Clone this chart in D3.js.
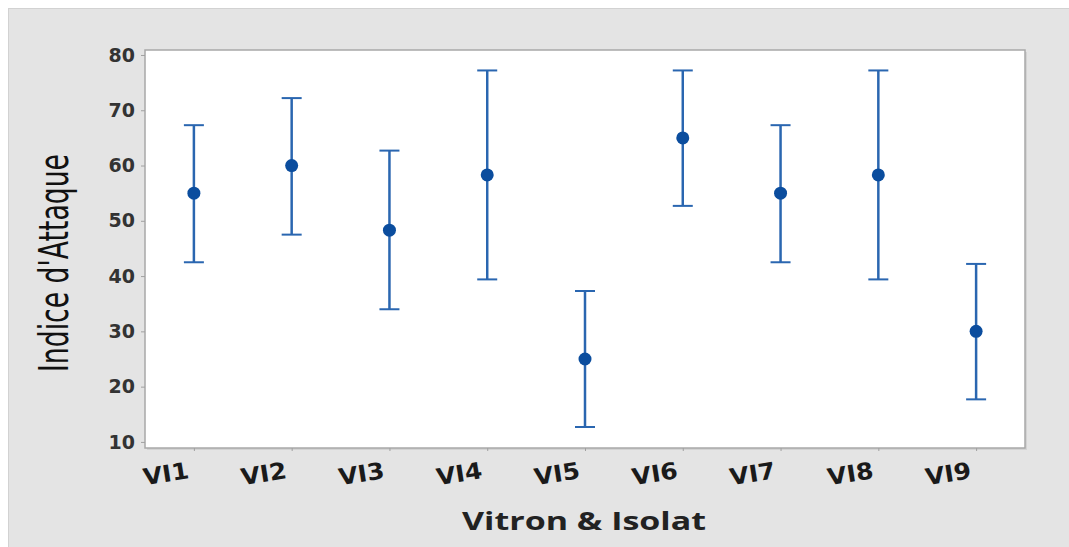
<!DOCTYPE html>
<html>
<head>
<meta charset="utf-8">
<script src="https://cdn.jsdelivr.net/npm/d3@7"></script>
<style>
  body { margin: 0; background: #ffffff; }
  svg { display: block; }
</style>
</head>
<body>
<svg id="chart" width="1069" height="547"></svg>
<script>
// data
var groups = ["VI1", "VI2", "VI3", "VI4", "VI5", "VI6", "VI7", "VI8", "VI9"]
var means  = [55, 60, 48.3, 58.3, 25, 65, 55, 58.3, 30]
var uppers = [67.3, 72.2, 62.7, 77.2, 37.3, 77.2, 67.3, 77.2, 42.2]
var lowers = [42.5, 47.5, 34, 39.4, 12.7, 52.7, 42.5, 39.4, 17.7]
var yTicks = [10, 20, 30, 40, 50, 60, 70, 80]

var dimensions = {
  width: 1069,
  height: 547,
  margin: { top: 50, bottom: 99, right: 44, left: 145 }
}
var plotW = dimensions.width - dimensions.margin.left - dimensions.margin.right
var plotH = dimensions.height - dimensions.margin.top - dimensions.margin.bottom

var svg = d3.select("#chart")

// grey background panel
svg.append("rect")
  .attr("x", 8.5).attr("y", 8.5)
  .attr("width", dimensions.width).attr("height", dimensions.height)
  .attr("fill", "#e4e4e4")
  .attr("stroke", "#d2d2d2")

var dataset = groups.map(function(g, i) {
  return { group: g, mean: means[i], hi: uppers[i], lo: lowers[i] }
})

var x = d3.scalePoint()
  .domain(groups)
  .range([0, plotW])
  .padding(0.5)

var y = d3.scaleLinear()
  .domain([8.9, 80.9])
  .range([plotH, 0])

var g = svg.append("g")
  .attr("transform", "translate(" + dimensions.margin.left + "," + dimensions.margin.top + ")")

// plot area
g.append("rect")
  .attr("x", 2).attr("y", 2)
  .attr("width", plotW).attr("height", plotH)
  .attr("fill", "#c8c8c8")
  .attr("opacity", 0.6)
g.append("rect")
  .attr("width", plotW).attr("height", plotH)
  .attr("fill", "#ffffff")
  .attr("stroke", "#a8a8a8")
  .attr("stroke-width", 1.5)

// y axis
var yAxis = g.append("g")
  .call(d3.axisLeft(y).tickValues(yTicks).tickSize(4).tickPadding(6))
yAxis.select(".domain").remove()
yAxis.selectAll("line").attr("stroke", "#a0a0a0")
yAxis.selectAll("text")
  .style("font-family", "DejaVu Sans, sans-serif")
  .style("font-weight", "bold")
  .style("font-size", "19px")
  .attr("fill", "#333333")

// x axis
var xAxis = g.append("g")
  .attr("transform", "translate(0," + plotH + ")")
  .call(d3.axisBottom(x).tickSize(3).tickPadding(0))
xAxis.select(".domain").remove()
xAxis.selectAll("line").attr("stroke", "#a0a0a0")
xAxis.selectAll("text")
  .attr("text-anchor", "end")
  .attr("transform", "translate(-5,27) rotate(-9)")
  .attr("dy", 0)
  .attr("textLength", 46)
  .attr("lengthAdjust", "spacingAndGlyphs")
  .style("font-family", "DejaVu Sans, sans-serif")
  .style("font-weight", "bold")
  .style("font-size", "23px")
  .attr("fill", "#1a1a1a")

// error bars
var barColor = "#2a66b0"
var bars = g.append("g")
  .selectAll("g")
  .data(dataset)
  .enter()
  .append("g")
    .attr("transform", function(d) { return "translate(" + x(d.group) + ",0)" })

bars.append("line")
  .attr("y1", function(d) { return y(d.hi) })
  .attr("y2", function(d) { return y(d.lo) })
  .attr("stroke", barColor)
  .attr("stroke-width", 2.5)
bars.append("line")
  .attr("x1", -10).attr("x2", 10)
  .attr("y1", function(d) { return y(d.hi) })
  .attr("y2", function(d) { return y(d.hi) })
  .attr("stroke", barColor)
  .attr("stroke-width", 2)
bars.append("line")
  .attr("x1", -10).attr("x2", 10)
  .attr("y1", function(d) { return y(d.lo) })
  .attr("y2", function(d) { return y(d.lo) })
  .attr("stroke", barColor)
  .attr("stroke-width", 2)
bars.append("circle")
  .attr("cy", function(d) { return y(d.mean) })
  .attr("r", 6.5)
  .attr("fill", "#0b4d9e")

// axis titles
svg.append("text")
  .text("Indice d'Attaque")
  .attr("text-anchor", "middle")
  .attr("transform", "translate(68,263) rotate(-90)")
  .attr("textLength", 218)
  .attr("lengthAdjust", "spacingAndGlyphs")
  .style("font-family", "Liberation Sans Narrow, DejaVu Sans Condensed, sans-serif")
  .style("font-size", "40px")
  .attr("fill", "#111111")

svg.append("text")
  .text("Vitron & Isolat")
  .attr("text-anchor", "middle")
  .attr("x", 584)
  .attr("y", 530)
  .attr("textLength", 244)
  .attr("lengthAdjust", "spacingAndGlyphs")
  .style("font-family", "Open Sans, DejaVu Sans, sans-serif")
  .style("font-weight", "bold")
  .style("font-size", "25px")
  .attr("fill", "#222222")
</script>
</body>
</html>
